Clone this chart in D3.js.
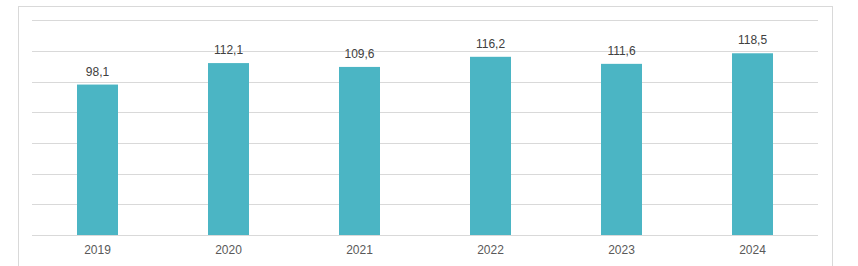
<!DOCTYPE html>
<html>
<head>
<meta charset="utf-8">
<script src="https://cdn.jsdelivr.net/npm/d3@7"></script>
<style>
  body { margin: 0; background: #fff; }
  svg { display: block; font-family: "Liberation Sans", "DejaVu Sans", sans-serif; }
</style>
</head>
<body>
<svg id="chart" width="858" height="266"></svg>
<script>
var years = ['2019', '2020', '2021', '2022', '2023', '2024'];
var values = [98.1, 112.1, 109.6, 116.2, 111.6, 118.5];
var yTicks = [0, 20, 40, 60, 80, 100, 120, 140];

var svg = d3.select('#chart');
var margin = { left: 32, right: 40, top: 20.3, bottom: 31 };
var width = 858, height = 266;

// outer chart frame
svg.append('rect')
    .attr('x', 18.5)
    .attr('y', 6.5)
    .attr('width', 832 - 18)
    .attr('height', 280)
    .attr('fill', 'none')
    .attr('stroke', '#d9d9d9');

var x = d3.scaleBand()
    .domain(years)
    .range([margin.left, width - margin.right])
    .paddingInner(0.687)
    .paddingOuter(0.3435);

var y = d3.scaleLinear()
    .domain([0, 140])
    .range([235, margin.top]);

// gridlines
svg.append('g')
    .selectAll('line')
    .data(yTicks)
    .enter().append('line')
    .attr('x1', margin.left)
    .attr('x2', width - margin.right)
    .attr('y1', function(d) { return Math.round(y(d)) + 0.5; })
    .attr('y2', function(d) { return Math.round(y(d)) + 0.5; })
    .attr('stroke', '#d9d9d9')
    .attr('stroke-width', 1);

// bars
svg.append('g')
    .selectAll('rect')
    .data(values)
    .enter().append('rect')
    .attr('x', function(d, i) { return x(years[i]); })
    .attr('width', x.bandwidth())
    .attr('y', function(d) { return y(d); })
    .attr('height', function(d) { return y(0) - y(d); })
    .attr('fill', '#4bb5c4');

// value labels
var fmt = function(v) { return d3.format('.1f')(v).replace('.', ','); };
svg.append('g')
    .selectAll('text')
    .data(values)
    .enter().append('text')
    .attr('x', function(d, i) { return x(years[i]) + x.bandwidth() / 2; })
    .attr('y', function(d) { return y(d) - 9; })
    .attr('text-anchor', 'middle')
    .attr('font-size', 12)
    .attr('fill', '#404040')
    .text(fmt);

// category axis labels
svg.append('g')
    .selectAll('text')
    .data(years)
    .enter().append('text')
    .attr('x', function(d) { return x(d) + x.bandwidth() / 2; })
    .attr('y', 254)
    .attr('text-anchor', 'middle')
    .attr('font-size', 12)
    .attr('fill', '#595959')
    .text(function(d) { return d; });
</script>
</body>
</html>
